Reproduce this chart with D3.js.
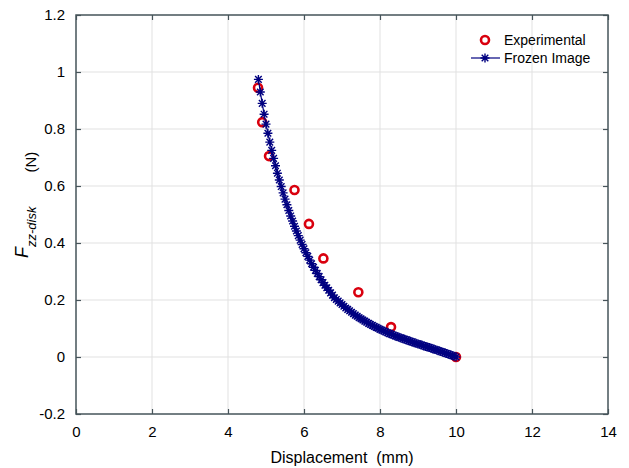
<!DOCTYPE html>
<html>
<head>
<meta charset="utf-8">
<script src="https://cdn.jsdelivr.net/npm/d3@7"></script>
<style>
	html, body { margin: 0; padding: 0; background: #fff; }
	svg { display: block; font-family: "Liberation Sans", Arial, sans-serif; }
</style>
</head>
<body>
<svg id="chart" width="629" height="468"></svg>
<script>
// Measured force vs. displacement, compared with the frozen image model.
var xTicks = [0, 2, 4, 6, 8, 10, 12, 14];
var yTicks = [-0.2, 0, 0.2, 0.4, 0.6, 0.8, 1, 1.2];
var yTickLabels = ['-0.2', '0', '0.2', '0.4', '0.6', '0.8', '1', '1.2'];

var expX = [4.79, 4.90, 5.08, 5.75, 6.13, 6.51, 7.43, 8.29, 10.0];
var expY = [0.945, 0.824, 0.705, 0.586, 0.467, 0.346, 0.227, 0.105, 0.0];

var frozenX = [
	4.80, 4.85, 4.90, 4.95, 5.00, 5.05, 5.10, 5.15, 5.20, 5.25, 5.30, 5.35, 5.40, 5.45, 5.50,
	5.55, 5.60, 5.65, 5.70, 5.75, 5.80, 5.85, 5.90, 5.95, 6.00, 6.05, 6.10, 6.15, 6.20, 6.25,
	6.30, 6.35, 6.40, 6.45, 6.50, 6.55, 6.60, 6.65, 6.70, 6.75, 6.80, 6.85, 6.90, 6.95, 7.00,
	7.05, 7.10, 7.15, 7.20, 7.25, 7.30, 7.35, 7.40, 7.45, 7.50, 7.55, 7.60, 7.65, 7.70, 7.75,
	7.80, 7.85, 7.90, 7.95, 8.00, 8.05, 8.10, 8.15, 8.20, 8.25, 8.30, 8.35, 8.40, 8.45, 8.50,
	8.55, 8.60, 8.65, 8.70, 8.75, 8.80, 8.85, 8.90, 8.95, 9.00, 9.05, 9.10, 9.15, 9.20, 9.25,
	9.30, 9.35, 9.40, 9.45, 9.50, 9.55, 9.60, 9.65, 9.70, 9.75, 9.80, 9.85, 9.90, 9.95, 10.00
];
var frozenY = [
	0.974, 0.930, 0.890, 0.852, 0.817, 0.785, 0.754, 0.725, 0.697, 0.671, 0.645, 0.621, 0.598, 0.576, 0.554,
	0.534, 0.514, 0.495, 0.477, 0.459, 0.442, 0.426, 0.410, 0.395, 0.380, 0.366, 0.353, 0.340, 0.327, 0.315,
	0.304, 0.293, 0.282, 0.271, 0.261, 0.252, 0.243, 0.234, 0.225, 0.217, 0.208, 0.202, 0.196, 0.190, 0.184,
	0.178, 0.172, 0.167, 0.162, 0.157, 0.152, 0.147, 0.143, 0.138, 0.134, 0.130, 0.126, 0.122, 0.118, 0.114,
	0.111, 0.107, 0.104, 0.101, 0.097, 0.094, 0.091, 0.088, 0.085, 0.082, 0.080, 0.077, 0.074, 0.072, 0.069,
	0.067, 0.064, 0.062, 0.060, 0.057, 0.055, 0.053, 0.050, 0.048, 0.046, 0.044, 0.042, 0.039, 0.037, 0.035,
	0.033, 0.031, 0.028, 0.026, 0.024, 0.022, 0.019, 0.017, 0.015, 0.012, 0.010, 0.008, 0.005, 0.003, 0.000
];

var axisColor = '#46545a';
var gridColor = '#e1e1e1';
var red = '#d9000e';
var navy = '#000080';

var svg = d3.select('#chart');
// Plot box edges in pixels (named so they do not clash with window.top).
var plotLeft = 76, plotRight = 608, plotTop = 15, plotBottom = 414;

var x = d3.scaleLinear().domain([0, 14]).range([plotLeft, plotRight]);
var y = d3.scaleLinear().domain([-0.2, 1.2]).range([plotBottom, plotTop]);

// Grid lines.
var grid = svg.append('g');
grid.selectAll('.gx').data(xTicks.slice(1, -1)).enter().append('line')
	.attr('x1', function(d) { return x(d); }).attr('x2', function(d) { return x(d); })
	.attr('y1', plotTop).attr('y2', plotBottom)
	.attr('stroke', gridColor).attr('stroke-width', 1);
grid.selectAll('.gy').data(yTicks.slice(1, -1)).enter().append('line')
	.attr('y1', function(d) { return y(d); }).attr('y2', function(d) { return y(d); })
	.attr('x1', plotLeft).attr('x2', plotRight)
	.attr('stroke', gridColor).attr('stroke-width', 1);

// Axes with inward ticks on all four sides, MATLAB style.
function styleAxis(g) {
	g.select('.domain').remove();
	g.selectAll('.tick line').attr('stroke', axisColor).attr('stroke-width', 1.2);
	g.selectAll('.tick text').attr('fill', '#000').style('font-size', '15px');
}
svg.append('g').attr('transform', 'translate(0,' + plotBottom + ')')
	.call(d3.axisBottom(x).tickValues(xTicks).tickSizeInner(-5).tickPadding(12).tickFormat(d3.format('d')))
	.call(styleAxis);
svg.append('g').attr('transform', 'translate(0,' + plotTop + ')')
	.call(d3.axisTop(x).tickValues(xTicks).tickSizeInner(-5).tickFormat(''))
	.call(styleAxis);
svg.append('g').attr('transform', 'translate(' + plotLeft + ',0)')
	.call(d3.axisLeft(y).tickValues(yTicks).tickSizeInner(-5).tickPadding(11)
		.tickFormat(function(d, i) { return yTickLabels[i]; }))
	.call(styleAxis);
svg.append('g').attr('transform', 'translate(' + plotRight + ',0)')
	.call(d3.axisRight(y).tickValues(yTicks).tickSizeInner(-5).tickFormat(''))
	.call(styleAxis);

svg.append('rect')
	.attr('x', plotLeft).attr('y', plotTop)
	.attr('width', plotRight - plotLeft).attr('height', plotBottom - plotTop)
	.attr('fill', 'none').attr('stroke', axisColor).attr('stroke-width', 1.5);

// Asterisk marker used for the frozen image series.
var starPath = 'M-4.5,0L4.5,0M0,-4.5L0,4.5M-3.3,-3.3L3.3,3.3M-3.3,3.3L3.3,-3.3';

// Experimental points.
var expData = expX.map(function(v, i) { return [v, expY[i]]; });
svg.append('g').selectAll('circle').data(expData).enter().append('circle')
	.attr('cx', function(d) { return x(d[0]); })
	.attr('cy', function(d) { return y(d[1]); })
	.attr('r', 4)
	.attr('fill', 'none').attr('stroke', red).attr('stroke-width', 2.6);

// Frozen image curve.
var frozenData = frozenX.map(function(v, i) { return [v, frozenY[i]]; });
svg.append('path').datum(frozenData)
	.attr('d', d3.line().x(function(d) { return x(d[0]); }).y(function(d) { return y(d[1]); }))
	.attr('fill', 'none').attr('stroke', navy).attr('stroke-width', 1.2);
svg.append('g').selectAll('path').data(frozenData).enter().append('path')
	.attr('transform', function(d) { return 'translate(' + x(d[0]) + ',' + y(d[1]) + ')'; })
	.attr('d', starPath)
	.attr('fill', 'none').attr('stroke', navy).attr('stroke-width', 1.4);

// Axis titles.
svg.append('text')
	.attr('x', (plotLeft + plotRight) / 2).attr('y', 463)
	.attr('text-anchor', 'middle').attr('fill', '#000').style('font-size', '16px')
	.style('white-space', 'pre')
	.text('Displacement  (mm)');

var ylab = svg.append('text')
	.attr('transform', 'translate(28,258) rotate(-90)')
	.attr('fill', '#000');
ylab.append('tspan').style('font-size', '18px').style('font-style', 'italic').text('F');
ylab.append('tspan').attr('dy', 8).style('font-size', '13px').style('font-style', 'italic').text('zz-disk');
ylab.append('tspan').attr('dx', 34).style('font-size', '15px').text('(N)');

// Legend.
var legend = svg.append('g');
legend.append('circle').attr('cx', 485).attr('cy', 40).attr('r', 4)
	.attr('fill', 'none').attr('stroke', red).attr('stroke-width', 2.6);
legend.append('line').attr('x1', 471).attr('x2', 500).attr('y1', 58).attr('y2', 58)
	.attr('stroke', navy).attr('stroke-width', 1.2);
legend.append('path').attr('transform', 'translate(485,58)').attr('d', starPath)
	.attr('fill', 'none').attr('stroke', navy).attr('stroke-width', 1.4);
legend.append('text').attr('x', 504).attr('y', 45).attr('fill', '#000')
	.style('font-size', '14px').text('Experimental');
legend.append('text').attr('x', 504).attr('y', 63).attr('fill', '#000')
	.style('font-size', '14px').text('Frozen Image');
</script>
</body>
</html>
